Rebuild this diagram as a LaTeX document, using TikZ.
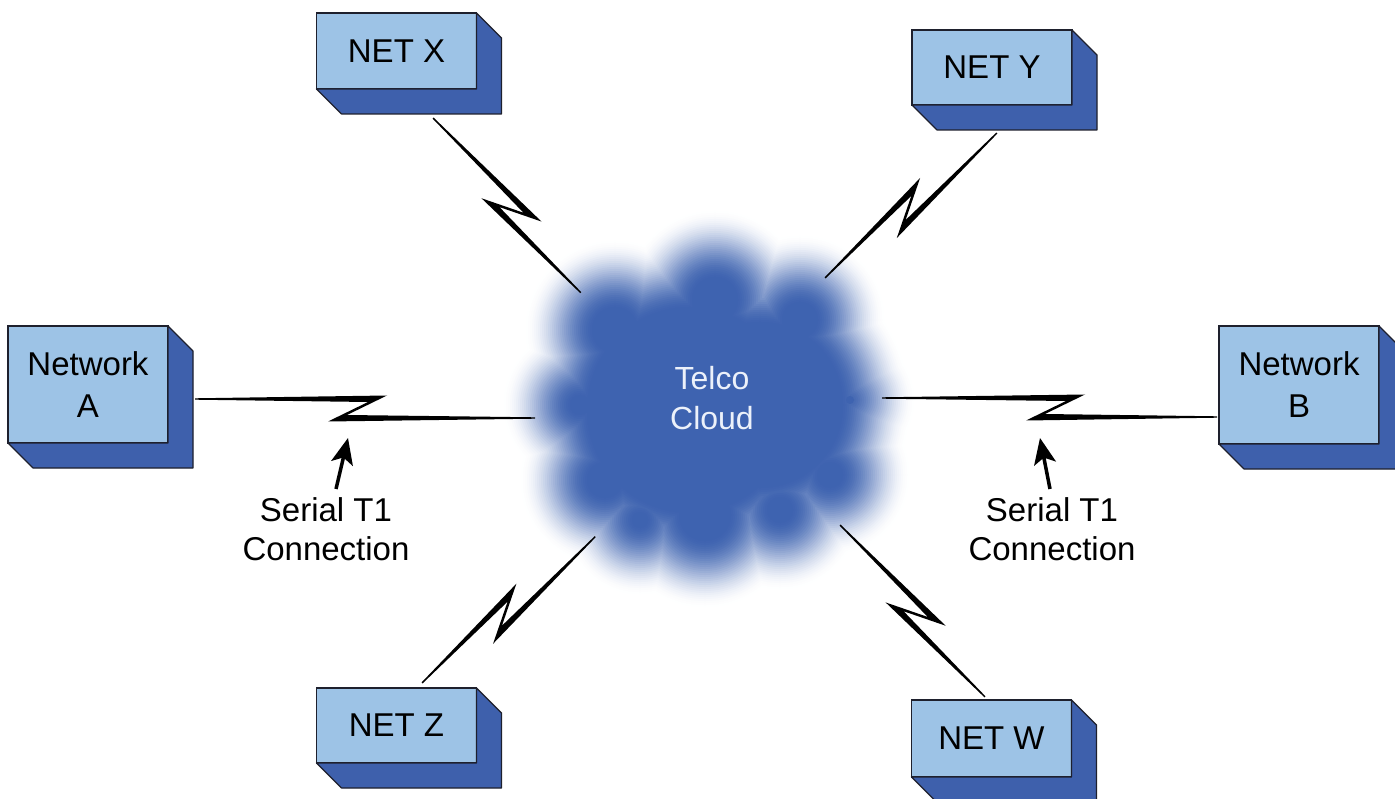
\documentclass[tikz,border=0pt]{standalone}
\usepackage{fontspec}
\setmainfont{Liberation Sans}
\usetikzlibrary{arrows.meta,calc}
\definecolor{boxfront}{RGB}{157,195,230}
\definecolor{boxside}{RGB}{62,96,172}
\definecolor{boxline}{RGB}{30,32,45}
\definecolor{cloudblue}{RGB}{62,99,176}
\definecolor{cloudtext}{RGB}{236,241,250}
\newcommand\zbolt[4]{%
  \begin{scope}[shift={(#1)},rotate=#2]
    \fill[boltfill] (0,-0.7) -- (#3+3,-3.5) -- (#3-37,16) -- (#4,18.3) -- (#4,19.7) -- (#3-56,22.5) -- (#3-16,3) -- (0,0.7) -- cycle;
  \end{scope}}
\newcommand\extrude[1]{%
  \filldraw[boxsidestyle] (#1.north east) -- ($(#1.north east)+(25,25)$) -- ($(#1.south east)+(25,25)$)
    -- ($(#1.south west)+(25,25)$) -- (#1.south west) -- (#1.south east) -- cycle;}
\def\lobelist{690/410/135, 760/405/115, 715/300/55, 615/330/55, 800/320/50, 580/405/42, 605/480/50, 705/515/58, 640/520/40, 780/510/45, 830/475/45, 850/400/30}
\begin{document}
\begin{tikzpicture}[x=1pt,y=-1pt,
  netbox/.style={draw=boxline, fill=boxfront, line width=1.2pt, minimum width=160pt,
    align=center, outer sep=0pt, inner sep=0pt, font=\fontsize{33}{42}\selectfont},
  boxsidestyle/.style={fill=boxside, draw=boxline, line width=1.2pt, line join=round},
  boltfill/.style={fill=black},
  cloudtxt/.style={text=cloudtext, align=center, font=\fontsize{32}{40}\selectfont},
  lbl/.style={text=black, align=center, font=\fontsize{33}{39}\selectfont},
  serarrow/.style={line width=3.5pt, -{Stealth[length=26pt,width=22pt,inset=6pt]}}]
\useasboundingbox (0,0) rectangle (1395,799);
\fill[white] (0,0) rectangle (1395,799);

% cloud (soft edge by stacked layers)
\foreach \s [evaluate=\s as \p using {100*((36-\s)/70)^2*(3-2*(36-\s)/70)}] in {36,34,...,-34}{
  \fill[cloudblue!\p!white] \foreach \cx/\cy/\r in \lobelist { (\cx,\cy) circle[radius=\r+(\s)] };
}
\node[cloudtxt] (cloud) at (712,398) {Telco\\Cloud};

% lightning connections
\coordinate (bX) at (433,118);
\coordinate (bY) at (825,278);
\coordinate (bA) at (195,399);
\coordinate (bB) at (882,398);
\coordinate (bZ) at (422,683);
\coordinate (bW) at (840,525);
\zbolt{bX}{-45}{147}{228}
\zbolt{bY}{45}{135}{224}
\zbolt{bA}{0}{189}{340}
\zbolt{bB}{0}{200}{335}
\zbolt{bZ}{45}{134}{226}
\zbolt{bW}{-45}{143}{224}

% boxes
\node[netbox, minimum height=76pt] (netx) at (396.5,51) {NET X};
\extrude{netx}
\node[netbox, minimum height=75pt] (nety) at (992,67.5) {NET Y};
\extrude{nety}
\node[netbox, minimum height=117pt] (neta) at (88,384.5) {Network\\A};
\extrude{neta}
\node[netbox, minimum height=118pt] (netb) at (1299,385) {Network\\B};
\extrude{netb}
\node[netbox, minimum height=75pt] (netz) at (396.5,725.5) {NET Z};
\extrude{netz}
\node[netbox, minimum height=77pt] (netw) at (991.5,738.5) {NET W};
\extrude{netw}

% labels
\node[lbl] (lblA) at (326,529) {Serial T1\\Connection};
\node[lbl] (lblB) at (1052,529) {Serial T1\\Connection};
\coordinate (tailA) at (336,489);
\coordinate (tipA) at (348,438);
\coordinate (tailB) at (1050,489);
\coordinate (tipB) at (1040,438);
\draw[serarrow] (tailA) -- (tipA);
\draw[serarrow] (tailB) -- (tipB);
\end{tikzpicture}
\end{document}
